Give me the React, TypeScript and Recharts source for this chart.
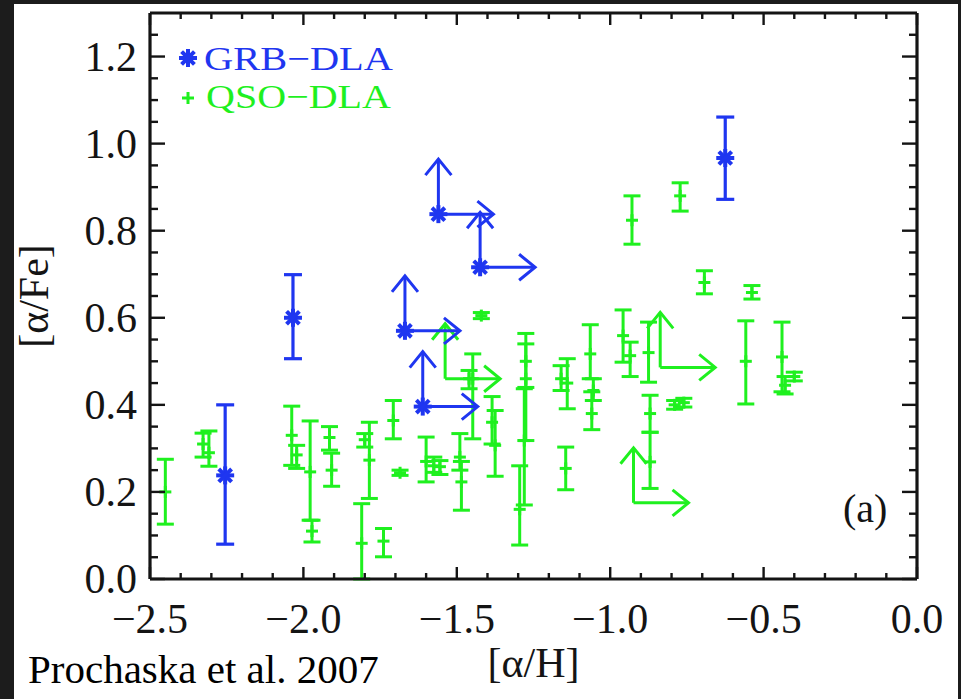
import React from 'react';
import { ScatterChart, Scatter, XAxis, YAxis, ErrorBar } from 'recharts';

const BLUE = '#1f36f0';
const GREEN = '#1ff01f';
const INK = '#141414';
const FONT = '"Liberation Serif", "Times New Roman", serif';

// GRB-DLA, measured [alpha/Fe] with 1-sigma range
const grbAlphaH = [-2.255, -2.034, -0.625];
const grbAlphaFe = [0.238, 0.6, 0.967];
const grbLow = [0.08, 0.506, 0.872];
const grbHigh = [0.4, 0.699, 1.061];

// GRB-DLA lower limits in both [alpha/H] and [alpha/Fe]
const grbLimAlphaH = [-1.56, -1.424, -1.669, -1.611];
const grbLimAlphaFe = [0.838, 0.716, 0.57, 0.396];

// QSO-DLA, measured
const qsoAlphaH = [-2.45, -2.327, -2.308, -2.038, -2.022, -1.978, -1.972, -1.915, -1.908, -1.81, -1.8, -1.785, -1.739, -1.707, -1.685, -1.6, -1.575, -1.555, -1.49, -1.485, -1.46, -1.448, -1.42, -1.385, -1.375, -1.295, -1.28, -1.275, -1.275, -1.16, -1.145, -1.14, -1.065, -1.06, -1.055, -0.958, -0.935, -0.929, -0.875, -0.87, -0.87, -0.79, -0.772, -0.76, -0.693, -0.558, -0.538, -0.44, -0.43, -0.4];
const qsoAlphaFe = [0.2, 0.31, 0.29, 0.33, 0.285, 0.246, 0.11, 0.325, 0.25, 0.082, 0.32, 0.273, 0.087, 0.364, 0.244, 0.27, 0.26, 0.258, 0.28, 0.223, 0.46, 0.46, 0.605, 0.36, 0.307, 0.16, 0.318, 0.46, 0.5, 0.46, 0.254, 0.45, 0.517, 0.38, 0.433, 0.559, 0.513, 0.824, 0.52, 0.38, 0.269, 0.4, 0.88, 0.405, 0.681, 0.5, 0.658, 0.51, 0.445, 0.465];
const qsoLow = [0.126, 0.28, 0.259, 0.261, 0.254, 0.135, 0.085, 0.296, 0.213, 0.0, 0.303, 0.185, 0.051, 0.322, 0.238, 0.223, 0.245, 0.24, 0.25, 0.158, 0.437, 0.322, 0.598, 0.31, 0.236, 0.078, 0.17, 0.318, 0.44, 0.433, 0.205, 0.391, 0.46, 0.343, 0.41, 0.498, 0.465, 0.769, 0.452, 0.337, 0.208, 0.39, 0.845, 0.395, 0.655, 0.402, 0.643, 0.43, 0.425, 0.455];
const qsoHigh = [0.275, 0.335, 0.34, 0.397, 0.307, 0.363, 0.135, 0.35, 0.289, 0.173, 0.334, 0.36, 0.116, 0.41, 0.25, 0.326, 0.28, 0.272, 0.334, 0.27, 0.479, 0.517, 0.612, 0.419, 0.387, 0.26, 0.437, 0.54, 0.564, 0.49, 0.303, 0.506, 0.584, 0.43, 0.46, 0.618, 0.544, 0.88, 0.59, 0.422, 0.337, 0.41, 0.91, 0.415, 0.708, 0.593, 0.674, 0.59, 0.465, 0.475];

// QSO-DLA lower limits
const qsoLimAlphaH = [-1.538, -0.837, -0.924];
const qsoLimAlphaFe = [0.46, 0.486, 0.175];

const xMajorTicks = [-2.5, -2.0, -1.5, -1.0, -0.5, 0.0];
const xMinorTicks = [-2.4, -2.3, -2.2, -2.1, -1.9, -1.8, -1.7, -1.6, -1.4, -1.3, -1.2, -1.1, -0.9, -0.8, -0.7, -0.6, -0.4, -0.3, -0.2, -0.1];
const yMajorTicks = [0.0, 0.2, 0.4, 0.6, 0.8, 1.0, 1.2];
const yMinorTicks = [0.05, 0.1, 0.15, 0.25, 0.3, 0.35, 0.45, 0.5, 0.55, 0.65, 0.7, 0.75, 0.85, 0.9, 0.95, 1.05, 1.1, 1.15, 1.25];

const legendLabels = ['GRB\u2212DLA', 'QSO\u2212DLA'];
const xTitle = '[\u03b1/H]';
const yTitle = '[\u03b1/Fe]';

const xTicks = [...xMajorTicks, ...xMinorTicks].sort((a, b) => a - b);
const yTicks = [...yMajorTicks, ...yMinorTicks].sort((a, b) => a - b);

const withErr = (xs: number[], ys: number[], lo: number[], hi: number[]) =>
  xs.map((x, i) => ({ x, y: ys[i], err: [ys[i] - lo[i], hi[i] - ys[i]] }));
const plain = (xs: number[], ys: number[]) => xs.map((x, i) => ({ x, y: ys[i] }));

const grbData = withErr(grbAlphaH, grbAlphaFe, grbLow, grbHigh);
const grbLimData = plain(grbLimAlphaH, grbLimAlphaFe);
const qsoData = withErr(qsoAlphaH, qsoAlphaFe, qsoLow, qsoHigh);
const qsoLimData = plain(qsoLimAlphaH, qsoLimAlphaFe);

const isMajor = (v: number, majors: number[]) => majors.some((m) => Math.abs(m - v) < 1e-6);
const fmt = (v: number) => (Math.abs(v) < 1e-9 ? 0 : v).toFixed(1).replace('-', '\u2212');

const FrameTick = (props: any) => {
  const { x, y, payload, side, majors } = props;
  const v = payload.value;
  const major = isMajor(v, majors);
  const horiz = side === 'left' || side === 'right';
  const len = horiz ? (major ? 15 : 8) : (major ? 12 : 6);
  let x2 = x;
  let y2 = y;
  if (side === 'bottom') y2 = y - len;
  if (side === 'top') y2 = y + len;
  if (side === 'left') x2 = x + len;
  if (side === 'right') x2 = x - len;
  return (
    <g>
      <line x1={x} y1={y} x2={x2} y2={y2} stroke={INK} strokeWidth={2.4} />
      {major && side === 'bottom' && (
        <text x={x} y={y + 54} textAnchor="middle" fontFamily={FONT} fontSize={42} fill={INK}>
          {fmt(v)}
        </text>
      )}
      {major && side === 'left' && (
        <text x={x - 13} y={y + 14} textAnchor="end" fontFamily={FONT} fontSize={42} fill={INK}>
          {fmt(v)}
        </text>
      )}
    </g>
  );
};

const Star = ({ cx, cy, color }: any) => (
  <g stroke={color} strokeWidth={4} strokeLinecap="square">
    <line x1={cx - 7} y1={cy} x2={cx + 7} y2={cy} />
    <line x1={cx} y1={cy - 7} x2={cx} y2={cy + 7} />
    <line x1={cx - 5} y1={cy - 5} x2={cx + 5} y2={cy + 5} />
    <line x1={cx - 5} y1={cy + 5} x2={cx + 5} y2={cy - 5} />
  </g>
);

const Cross = ({ cx, cy, color }: any) => (
  <g stroke={color} strokeWidth={3}>
    <line x1={cx - 6} y1={cy} x2={cx + 6} y2={cy} />
    <line x1={cx} y1={cy - 6} x2={cx} y2={cy + 6} />
  </g>
);

const ARROW = 55;
const limitShape = (color: string, star: boolean) => (p: any) => {
  const { cx, cy } = p;
  return (
    <g>
      <g stroke={color} strokeWidth={3} fill="none">
        <line x1={cx} y1={cy} x2={cx} y2={cy - ARROW} />
        <polyline points={`${cx - 13},${cy - ARROW + 16} ${cx},${cy - ARROW} ${cx + 13},${cy - ARROW + 16}`} />
        <line x1={cx} y1={cy} x2={cx + ARROW} y2={cy} />
        <polyline points={`${cx + ARROW - 16},${cy - 13} ${cx + ARROW},${cy} ${cx + ARROW - 16},${cy + 13}`} />
      </g>
      {star && <Star cx={cx} cy={cy} color={color} />}
    </g>
  );
};

const axisLine = { stroke: INK, strokeWidth: 3.2 };

export default function App() {
  return (
    <div style={{ position: 'relative', width: 961, height: 699, background: '#1c1c1c', overflow: 'hidden' }}>
      <style>{'body{margin:0;background:#1c1c1c}'}</style>
      <div style={{ position: 'absolute', left: 14, top: 4, width: 944, height: 695, background: '#fff' }} />
      <div style={{ position: 'absolute', left: 0, top: 0 }}>
        <ScatterChart width={961} height={699} margin={{ top: 3, right: 34, bottom: 110, left: 140 }}>
          <XAxis
            xAxisId="b"
            orientation="bottom"
            type="number"
            dataKey="x"
            domain={[-2.5, 0]}
            allowDataOverflow
            ticks={xTicks}
            interval={0}
            height={10}
            tickSize={0}
            tickMargin={0}
            tickLine={false}
            axisLine={axisLine}
            tick={(p: any) => <FrameTick {...p} side="bottom" majors={xMajorTicks} />}
            label={{ value: xTitle, position: 'bottom', offset: 58, fill: INK, fontSize: 42, fontFamily: FONT }}
          />
          <XAxis
            xAxisId="t"
            orientation="top"
            type="number"
            dataKey="x"
            domain={[-2.5, 0]}
            allowDataOverflow
            ticks={xTicks}
            interval={0}
            height={10}
            tickSize={0}
            tickMargin={0}
            tickLine={false}
            axisLine={axisLine}
            tick={(p: any) => <FrameTick {...p} side="top" majors={xMajorTicks} />}
          />
          <YAxis
            yAxisId="l"
            orientation="left"
            type="number"
            dataKey="y"
            domain={[0, 1.3]}
            allowDataOverflow
            ticks={yTicks}
            interval={0}
            width={10}
            tickSize={0}
            tickMargin={0}
            tickLine={false}
            axisLine={axisLine}
            tick={(p: any) => <FrameTick {...p} side="left" majors={yMajorTicks} />}
            label={{
              content: (p: any) => {
                const vb = p.viewBox || { x: 140, y: 13, height: 566 };
                const cx = vb.x - 92;
                const cy = vb.y + vb.height / 2;
                return (
                  <text x={cx} y={cy} transform={`rotate(-90 ${cx} ${cy})`} textAnchor="middle" fontFamily={FONT} fontSize={42} fill={INK}>
                    {yTitle}
                  </text>
                );
              },
            }}
          />
          <YAxis
            yAxisId="r"
            orientation="right"
            type="number"
            dataKey="y"
            domain={[0, 1.3]}
            allowDataOverflow
            ticks={yTicks}
            interval={0}
            width={10}
            tickSize={0}
            tickMargin={0}
            tickLine={false}
            axisLine={axisLine}
            tick={(p: any) => <FrameTick {...p} side="right" majors={yMajorTicks} />}
          />

          <Scatter
            data={qsoData}
            xAxisId="b"
            yAxisId="l"
            isAnimationActive={false}
            shape={(p: any) => <Cross cx={p.cx} cy={p.cy} color={GREEN} />}
          >
            <ErrorBar dataKey="err" direction="y" width={8.5} stroke={GREEN} strokeWidth={3} isAnimationActive={false} />
          </Scatter>
          <Scatter data={qsoLimData} xAxisId="b" yAxisId="l" isAnimationActive={false} shape={limitShape(GREEN, false)} />
          <Scatter
            data={grbData}
            xAxisId="b"
            yAxisId="l"
            isAnimationActive={false}
            shape={(p: any) => <Star cx={p.cx} cy={p.cy} color={BLUE} />}
          >
            <ErrorBar dataKey="err" direction="y" width={9} stroke={BLUE} strokeWidth={3.2} isAnimationActive={false} />
          </Scatter>
          <Scatter data={grbLimData} xAxisId="b" yAxisId="l" isAnimationActive={false} shape={limitShape(BLUE, true)} />
        </ScatterChart>
      </div>
      <svg width={961} height={699} style={{ position: 'absolute', left: 0, top: 0, pointerEvents: 'none' }}>
        <Star cx={188} cy={58} color={BLUE} />
        <text x={204} y={70} fontFamily={FONT} fontSize={34} textLength={189} lengthAdjust="spacingAndGlyphs" fill={BLUE}>
          {legendLabels[0]}
        </text>
        <Cross cx={188} cy={98} color={GREEN} />
        <text x={206} y={108} fontFamily={FONT} fontSize={34} textLength={185} lengthAdjust="spacingAndGlyphs" fill={GREEN}>
          {legendLabels[1]}
        </text>
        <text x={843} y={522} fontFamily={FONT} fontSize={40} fill={INK}>(a)</text>
        <text x={28} y={683} fontFamily={FONT} fontSize={41} fill="#000">Prochaska et al. 2007</text>
      </svg>
    </div>
  );
}
